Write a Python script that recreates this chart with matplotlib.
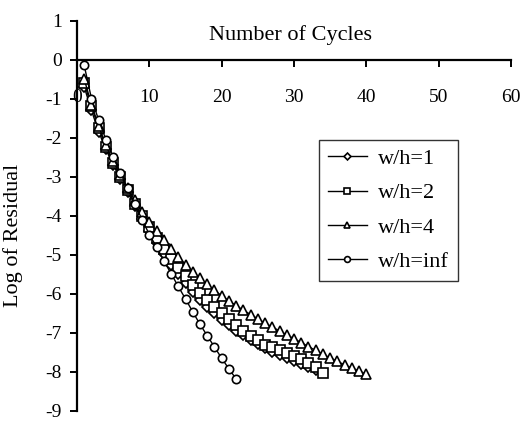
import matplotlib
matplotlib.use('Agg')
import matplotlib.pyplot as plt
import numpy as np

plt.rcParams['font.family'] = ['Liberation Serif', 'DejaVu Serif']

# ---- data ----
cycles_1 = list(range(1, 34))
resid_1 = [-0.7, -1.3, -1.85, -2.3, -2.7, -3.05, -3.4, -3.75, -4.08, -4.4,
           -4.7, -4.98, -5.25, -5.5, -5.73, -5.95, -6.15, -6.33, -6.5, -6.66,
           -6.8, -6.94, -7.06, -7.18, -7.29, -7.39, -7.48, -7.57, -7.65, -7.73,
           -7.8, -7.87, -7.95]

cycles_2 = list(range(1, 35))
resid_2 = [-0.6, -1.2, -1.75, -2.25, -2.65, -3.0, -3.35, -3.7, -4.0, -4.3,
           -4.58, -4.85, -5.1, -5.33, -5.55, -5.78, -5.98, -6.16, -6.33, -6.5,
           -6.65, -6.8, -6.94, -7.07, -7.19, -7.3, -7.37, -7.43, -7.52, -7.6,
           -7.68, -7.77, -7.88, -8.03]

cycles_4 = list(range(1, 41))
resid_4 = [-0.5, -1.15, -1.7, -2.2, -2.6, -2.95, -3.3, -3.6, -3.9, -4.15,
           -4.4, -4.63, -4.85, -5.05, -5.25, -5.43, -5.6, -5.76, -5.91, -6.05,
           -6.18, -6.3, -6.42, -6.53, -6.64, -6.75, -6.85, -6.95, -7.05, -7.15,
           -7.25, -7.35, -7.45, -7.55, -7.64, -7.73, -7.82, -7.9, -7.98, -8.06]

cycles_inf = list(range(1, 23))
resid_inf = [-0.15, -1.0, -1.55, -2.05, -2.5, -2.9, -3.3, -3.7, -4.1, -4.48,
             -4.8, -5.15, -5.48, -5.81, -6.13, -6.46, -6.78, -7.07, -7.36, -7.65,
             -7.92, -8.18]

labels = ['w/h=1', 'w/h=2', 'w/h=4', 'w/h=inf']
x_ticks = [0, 10, 20, 30, 40, 50, 60]
y_ticks = list(range(-9, 2))

# ---- figure ----
fig = plt.figure(figsize=(5.22, 4.24), dpi=100)
ax = fig.add_axes([0.1475, 0.0307, 0.8315, 0.9208])

common = dict(color='black', linewidth=1.0, markerfacecolor='white',
              markeredgecolor='black', markeredgewidth=1.2)
ax.plot(cycles_1, resid_1, marker='D', markersize=5, label=labels[0], **common)
ax.plot(cycles_2, resid_2, marker='s', markersize=6.5, label=labels[1], **common)
ax.plot(cycles_4, resid_4, marker='^', markersize=7, label=labels[2], **common)
ax.plot(cycles_inf, resid_inf, marker='o', markersize=6, label=labels[3], **common)

ax.set_xlim(0, 60)
ax.set_ylim(-9, 1)
ax.spines['top'].set_visible(False)
ax.spines['right'].set_visible(False)
ax.spines['bottom'].set_position(('data', 0))
ax.spines['bottom'].set_linewidth(1.6)
ax.spines['left'].set_linewidth(1.6)

ax.set_xticks(x_ticks)
ax.set_yticks(y_ticks)
ax.set_yticklabels([str(v) for v in y_ticks])
ax.tick_params(axis='both', direction='out', length=5, width=1.4, labelsize=14)
ax.tick_params(axis='x', pad=16)
ax.tick_params(axis='y', pad=6)

ax.text(29.5, 0.62, 'Number of Cycles', fontsize=16, ha='center', va='center')
ax.set_ylabel('Log of Residual', fontsize=16)
ax.yaxis.set_label_coords(-0.125, 0.45)

leg = ax.legend(loc='upper left', bbox_to_anchor=(0.5576, 0.695), fontsize=16,
                frameon=True, fancybox=False, edgecolor='black',
                markerscale=0.7, handlelength=1.75, handletextpad=0.5,
                borderpad=0.4, labelspacing=0.62, borderaxespad=0)
leg.get_frame().set_linewidth(1.0)

fig.savefig('out.png', dpi=100)
